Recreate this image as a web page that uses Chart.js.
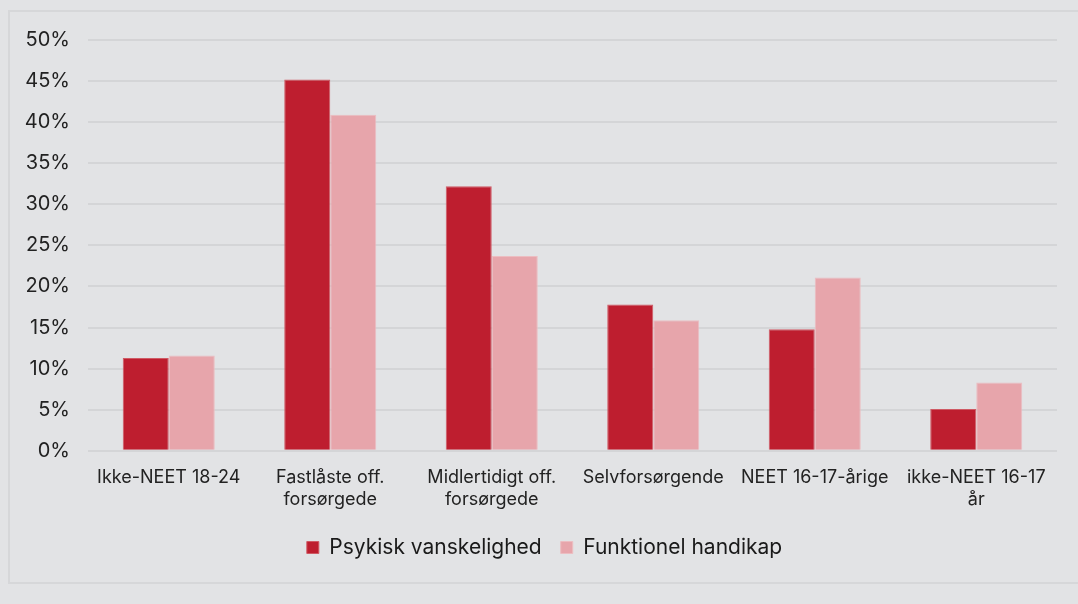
<!DOCTYPE html>
<html>
<head>
<meta charset="utf-8">
<script src="https://cdn.jsdelivr.net/npm/chart.js@4"></script>
<style>
    html, body { margin: 0; padding: 0; background: #e2e3e5; }
    #frame {
        position: absolute; left: 8px; top: 10px; width: 1080px; height: 574px;
        border: 2px solid #d6d7d9; box-sizing: border-box;
    }
    #wrap { position: absolute; left: 0; top: 0; width: 1078px; height: 604px; }
</style>
</head>
<body>
<div id="frame"></div>
<div id="wrap"><canvas id="chart"></canvas></div>
<script>
const categories = [
    'Ikke-NEET 18-24',
    ['Fastlåste off.', 'forsørgede'],
    ['Midlertidigt off.', 'forsørgede'],
    'Selvforsørgende',
    'NEET 16-17-årige',
    ['ikke-NEET 16-17', 'år'],
];
const psykisk = [11.3, 45.2, 32.2, 17.8, 14.8, 5.1];
const funktionel = [11.6, 40.9, 23.7, 15.9, 21.1, 8.3];

// legend sits a little right of the canvas centre in the original
const legendShift = {
    id: 'legendShift',
    afterLayout(chart) {
        const lg = chart.legend;
        if (lg) {
            lg.left += 16;
            lg.right += 16;
        }
    },
};

document.addEventListener('DOMContentLoaded', () => {
    Chart.defaults.font.family = 'Inter, "Noto Sans", sans-serif';
    Chart.defaults.color = '#222';

    new Chart(document.getElementById('chart'), {
        type: 'bar',
        data: {
            labels: categories,
            datasets: [
                {
                    label: 'Psykisk vanskelighed',
                    data: psykisk,
                    backgroundColor: '#be1e2f',
                    borderColor: '#cf5a64',
                    borderWidth: 1,
                },
                {
                    label: 'Funktionel handikap',
                    data: funktionel,
                    backgroundColor: '#e7a5ab',
                    borderColor: '#ecbdc1',
                    borderWidth: 1,
                },
            ],
        },
        options: {
            responsive: true,
            maintainAspectRatio: false,
            animation: false,
            categoryPercentage: 0.57,
            barPercentage: 1,
            layout: { padding: { left: 0, right: 21, top: 40, bottom: 36 } },
            scales: {
                x: {
                    grid: { display: false },
                    border: { display: false },
                    ticks: { font: { size: 18 }, maxRotation: 0, autoSkip: false, padding: 8 },
                },
                y: {
                    min: 0,
                    max: 50,
                    ticks: {
                        stepSize: 5,
                        font: { size: 20 },
                        padding: 18,
                        callback: (v) => v + '%',
                    },
                    grid: { color: '#d4d5d7', lineWidth: 2, drawTicks: false },
                    border: { display: false },
                    afterFit: (scale) => { scale.width = 88; },
                },
            },
            plugins: {
                legend: {
                    position: 'bottom',
                    labels: {
                        boxWidth: 12,
                        boxHeight: 12,
                        padding: 19,
                        font: { size: 21 },
                        color: '#1a1a1a',
                    },
                },
                tooltip: { enabled: false },
            },
        },
        plugins: [legendShift],
    });
});
</script>
</body>
</html>
